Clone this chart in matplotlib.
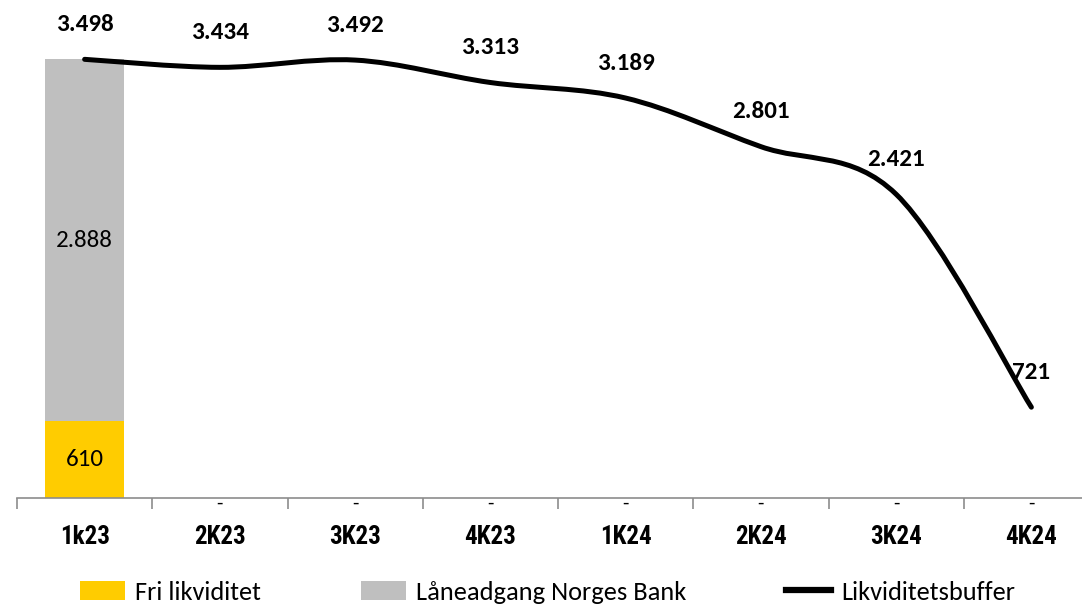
import matplotlib
matplotlib.use("Agg")
import matplotlib.pyplot as plt
from matplotlib.patches import Patch, PathPatch
from matplotlib.lines import Line2D
from matplotlib.path import Path
from matplotlib.font_manager import FontProperties

plt.rcParams['font.family'] = ['Carlito', 'DejaVu Sans']

quarters = ["1k23", "2K23", "3K23", "4K23", "1K24", "2K24", "3K24", "4K24"]
fri_likviditet = [610, 0, 0, 0, 0, 0, 0, 0]
laaneadgang = [2888, 0, 0, 0, 0, 0, 0, 0]
likviditetsbuffer = [3498, 3434, 3492, 3313, 3189, 2801, 2421, 721]

YELLOW = "#FFCC00"
GREY = "#BFBFBF"
AXIS_GREY = "#8C8C8C"

W, H = 1082, 606
fig = plt.figure(figsize=(W / 100, H / 100), dpi=100)
left_px, right_px = 17, 1099
bottom_px, top_px = 497.5, 21.5
ax = fig.add_axes([left_px / W, 1 - bottom_px / H,
                   (right_px - left_px) / W, (bottom_px - top_px) / H])

x = list(range(len(quarters)))
ax.set_xlim(-0.5, len(quarters) - 0.5)
ax.set_ylim(0, 3800)

bw = 0.58
ax.bar(x, fri_likviditet, width=bw, color=YELLOW, zorder=2)
ax.bar(x, laaneadgang, width=bw, bottom=fri_likviditet, color=GREY, zorder=2)

def fmt(v):
    return f"{v:,}".replace(",", ".") if v else "-"

# segment labels inside the stacked bars
for i, (f, l) in enumerate(zip(fri_likviditet, laaneadgang)):
    if f:
        ax.text(i, f / 2, fmt(f), ha="center", va="center", fontsize=18, zorder=4)
    if l:
        ax.text(i, f + l / 2, fmt(l), ha="center", va="center", fontsize=18, zorder=4)
    if not f and not l:
        ax.annotate("-", (i, 0), xytext=(0, -4), textcoords="offset points",
                    ha="center", va="center", fontsize=15, zorder=4)

# smoothed buffer line as cubic Bezier segments (Catmull-Rom control points)
pts = list(zip(x, likviditetsbuffer))
verts = [pts[0]]
codes = [Path.MOVETO]
n = len(pts)
for k in range(n - 1):
    p0 = pts[k - 1] if k > 0 else pts[k]
    p1 = pts[k]
    p2 = pts[k + 1]
    p3 = pts[k + 2] if k + 2 < n else pts[k + 1]
    c1 = (p1[0] + (p2[0] - p0[0]) / 6, p1[1] + (p2[1] - p0[1]) / 6)
    c2 = (p2[0] - (p3[0] - p1[0]) / 6, p2[1] - (p3[1] - p1[1]) / 6)
    verts += [c1, c2, p2]
    codes += [Path.CURVE4] * 3
ax.add_patch(PathPatch(Path(verts, codes), fill=False, edgecolor="black",
                       lw=3.6, capstyle="round", joinstyle="round", zorder=3,
                       clip_on=False))

for i, v in enumerate(likviditetsbuffer):
    ax.annotate(fmt(v), (i, v), xytext=(0, 25), textcoords="offset points",
                ha="center", va="center", fontsize=18, fontweight="bold", zorder=5)

for s in ["left", "right", "top"]:
    ax.spines[s].set_visible(False)
ax.spines["bottom"].set_color(AXIS_GREY)
ax.spines["bottom"].set_linewidth(1.2)
ax.set_yticks([])
ax.set_xticks(x)
ax.set_xticklabels(quarters, fontsize=18, fontweight="bold",
                   family=["Roboto Condensed", "DejaVu Sans"])
ax.tick_params(axis="x", which="major", length=0, pad=20)
ax.set_xticks([i - 0.5 for i in range(len(quarters) + 1)], minor=True)
ax.tick_params(axis="x", which="minor", length=8, width=1.2, color=AXIS_GREY,
               direction="out")

handles = [Patch(facecolor=YELLOW, edgecolor="none"),
           Patch(facecolor=GREY, edgecolor="none"),
           Line2D([], [], color="black", lw=4.5)]
labels = ["Fri likviditet", "Låneadgang Norges Bank", "Likviditetsbuffer"]
leg_fs = 19
fs_px = leg_fs * 100 / 72
fig.legend(handles, labels, loc="center left",
           bbox_to_anchor=(80 / W, 1 - 592 / H), ncol=3, frameon=False,
           prop=FontProperties(family=["Carlito", "DejaVu Sans"], size=leg_fs),
           borderpad=0, borderaxespad=0,
           handlelength=45 / fs_px, handleheight=0.75,
           handletextpad=10 / fs_px, columnspacing=100 / fs_px)

fig.savefig("out.png", dpi=100)
